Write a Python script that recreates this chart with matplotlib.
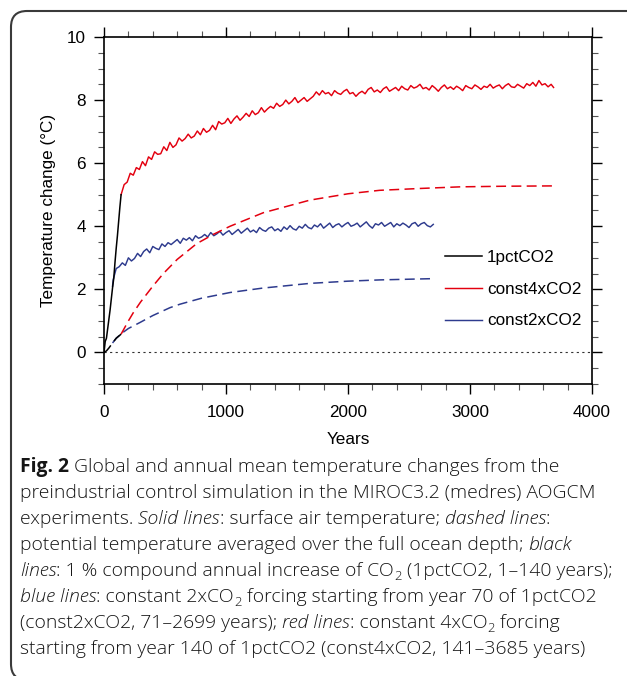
import numpy as np
import matplotlib
matplotlib.use('Agg')
import matplotlib.pyplot as plt
from matplotlib.patches import FancyBboxPatch
from matplotlib.ticker import MultipleLocator, FixedLocator
import matplotlib.transforms as mtransforms

# ---------------- data ----------------
# 1pctCO2 surface air temperature (years 0-140)
yr_1pct = [0, 10, 20, 30, 40, 50, 60, 70, 80, 90, 100, 110, 120, 130, 140]
sat_1pct = [0.0, 0.35, 0.45, 0.75, 1.05, 1.35, 1.7, 2.05, 2.35, 2.85, 3.3, 3.7, 4.15, 4.6, 5.0]
# 1pctCO2 full-depth ocean potential temperature
yr_1pct_oc = [0, 20, 40, 70, 100, 140]
oce_1pct = [0.0, 0.05, 0.14, 0.3, 0.45, 0.58]

# const4xCO2 surface air temperature (years 140-3685, 25-yr samples)
yr_4x = list(range(140, 3666, 25)) + [3685]
sat_4x = [
    5.00, 5.32, 5.40, 5.68, 5.62, 5.86, 5.80, 6.05, 5.92, 6.20,
    6.12, 6.36, 6.28, 6.30, 6.52, 6.40, 6.66, 6.50, 6.58, 6.80,
    6.70, 6.78, 6.92, 6.80, 6.86, 7.02, 6.90, 7.10, 6.98, 7.04,
    7.20, 7.06, 7.32, 7.24, 7.28, 7.42, 7.26, 7.40, 7.50, 7.36,
    7.46, 7.58, 7.48, 7.66, 7.54, 7.60, 7.76, 7.62, 7.72, 7.80,
    7.74, 7.90, 7.80, 7.86, 8.00, 7.88, 7.96, 8.08, 7.92, 8.00,
    8.08, 7.96, 8.04, 8.12, 8.26, 8.16, 8.30, 8.20, 8.24, 8.14,
    8.30, 8.22, 8.18, 8.28, 8.34, 8.20, 8.24, 8.12, 8.22, 8.28,
    8.20, 8.34, 8.40, 8.26, 8.32, 8.24, 8.36, 8.42, 8.28, 8.34,
    8.40, 8.30, 8.44, 8.36, 8.32, 8.46, 8.38, 8.42, 8.50, 8.36,
    8.40, 8.32, 8.46, 8.38, 8.28, 8.40, 8.48, 8.36, 8.42, 8.34,
    8.44, 8.38, 8.30, 8.46, 8.40, 8.36, 8.48, 8.42, 8.34, 8.44,
    8.40, 8.50, 8.38, 8.44, 8.48, 8.36, 8.46, 8.52, 8.42, 8.40,
    8.50, 8.44, 8.38, 8.52, 8.46, 8.56, 8.44, 8.62, 8.48, 8.52,
    8.42, 8.50, 8.40,
]
# const4xCO2 ocean potential temperature
yr_4x_oc = [140, 200, 240, 300, 400, 486, 600, 760, 900, 1033, 1306, 1689,
            2000, 2260, 2600, 2920, 3300, 3685]
oce_4x = [0.58, 1.0, 1.26, 1.6, 2.1, 2.5, 2.95, 3.45, 3.75, 4.0, 4.43, 4.83,
          5.03, 5.14, 5.2, 5.25, 5.27, 5.28]

# const2xCO2 surface air temperature (years 70-2699)
yr_2x = [70] + list(range(75, 2676, 25)) + [2699]
sat_2x = [
    2.10,
    2.30, 2.66, 2.72, 2.84, 2.76, 3.00, 2.90, 2.98, 3.14, 3.04,
    3.20, 3.28, 3.16, 3.36, 3.30, 3.26, 3.44, 3.36, 3.48, 3.42,
    3.50, 3.58, 3.46, 3.62, 3.56, 3.64, 3.54, 3.70, 3.62, 3.66,
    3.74, 3.66, 3.80, 3.70, 3.76, 3.84, 3.72, 3.80, 3.86, 3.74,
    3.82, 3.90, 3.78, 3.86, 3.94, 3.82, 3.88, 3.80, 3.96, 3.88,
    3.84, 3.94, 3.98, 3.86, 3.92, 3.84, 3.98, 3.90, 4.02, 3.92,
    3.88, 4.00, 3.94, 4.06, 3.96, 3.92, 4.04, 3.98, 4.08, 3.94,
    4.02, 4.10, 3.96, 4.04, 4.08, 3.98, 4.06, 4.12, 4.00, 4.04,
    4.10, 3.98, 4.06, 4.14, 4.02, 3.94, 4.08, 4.04, 4.12, 4.00,
    4.06, 4.12, 3.98, 4.08, 4.02, 4.10, 4.04, 3.96, 4.08, 4.12,
    4.00, 4.08, 4.12, 4.02, 3.98,
    4.06,
]
# const2xCO2 ocean potential temperature
yr_2x_oc = [70, 100, 150, 200, 295, 400, 541, 623, 800, 1033, 1300, 1689,
            2000, 2262, 2699]
oce_2x = [0.3, 0.45, 0.62, 0.76, 0.95, 1.17, 1.42, 1.53, 1.72, 1.9, 2.04, 2.19,
          2.26, 2.3, 2.34]

labels = ['1pctCO2', 'const4xCO2', 'const2xCO2']
x_ticks = [0, 1000, 2000, 3000, 4000]
y_ticks = [0, 2, 4, 6, 8, 10]

# ---------------- figure ----------------
W, H, DPI = 627, 676, 100
fig = plt.figure(figsize=(W / DPI, H / DPI), dpi=DPI)


def fx(px):
    return px / W


def fy(py):
    return 1 - py / H


RED = '#e3000f'
BLUE = '#2e3b8e'
AXFONT = 'Liberation Sans'
AXFS = 12.3

ax = fig.add_axes([fx(104), fy(384), fx(592) - fx(104), fy(37) - fy(384)])

dash = (0, (6.5, 3.5))
ax.axhline(0, color='#333333', lw=0.8, ls=(0, (2, 3)), zorder=1)
l2, = ax.plot(yr_2x, sat_2x, color=BLUE, lw=1.05, zorder=2)
ax.plot(yr_2x_oc, oce_2x, color=BLUE, lw=1.1, ls=dash, zorder=2)
l4, = ax.plot(yr_4x, sat_4x, color=RED, lw=1.05, zorder=3)
ax.plot(yr_4x_oc, oce_4x, color=RED, lw=1.1, ls=dash, zorder=3)
l1, = ax.plot(yr_1pct, sat_1pct, color='black', lw=1.1, zorder=4)
ax.plot(yr_1pct_oc, oce_1pct, color='black', lw=1.1, ls=dash, zorder=4)

ax.set_xlim(0, 4000)
ax.set_ylim(-1, 10)
ax.xaxis.set_major_locator(FixedLocator(x_ticks))
ax.xaxis.set_minor_locator(MultipleLocator(200))
ax.yaxis.set_major_locator(FixedLocator(y_ticks))
ax.yaxis.set_minor_locator(MultipleLocator(0.5))
ax.tick_params(which='both', direction='out', top=True, right=True,
               labeltop=False, labelright=False)
ax.tick_params(which='major', length=7.5, width=1.0, labelsize=AXFS)
ax.tick_params(axis='y', which='major', pad=5.5)
ax.tick_params(axis='x', which='major', pad=7.5)
ax.tick_params(which='minor', length=4, width=0.8, color='#555555')
for lab in ax.get_xticklabels() + ax.get_yticklabels():
    lab.set_family(AXFONT)
for sp in ax.spines.values():
    sp.set_linewidth(1.2)

ax.set_xlabel('Years', family=AXFONT, fontsize=AXFS, labelpad=9)
ax.set_ylabel('Temperature change (°C)', family=AXFONT, fontsize=AXFS, labelpad=8)

leg = ax.legend([l1, l4, l2], labels, loc='upper left',
                bbox_to_anchor=(fx(445), fy(250)), bbox_transform=fig.transFigure,
                frameon=False, borderpad=0, borderaxespad=0, handlelength=2.15,
                handletextpad=0.3, labelspacing=0.98,
                prop={'family': AXFONT, 'size': AXFS})

# rounded frame around the whole figure
frame = FancyBboxPatch((11, -4), 720, 669, boxstyle='round,pad=0,rounding_size=16',
                       transform=mtransforms.IdentityTransform(), fill=False,
                       edgecolor='#3a3a3a', lw=1.5, zorder=0)
fig.patches.append(frame)

# ---------------- caption ----------------
CAPFONT = 'Open Sans'
caption = [
    [('Fig. 2', 'b'), (' Global and annual mean temperature changes from the', 'r')],
    [('preindustrial control simulation in the MIROC3.2 (medres) AOGCM', 'r')],
    [('experiments. ', 'r'), ('Solid lines', 'i'), (': surface air temperature; ', 'r'),
     ('dashed lines', 'i'), (':', 'r')],
    [('potential temperature averaged over the full ocean depth; ', 'r'), ('black', 'i')],
    [('lines', 'i'), (': 1 % compound annual increase of CO', 'r'), ('2', 's'),
     (' (1pctCO2, 1–140 years);', 'r')],
    [('blue lines', 'i'), (': constant 2xCO', 'r'), ('2', 's'),
     (' forcing starting from year 70 of 1pctCO2', 'r')],
    [('(const2xCO2, 71–2699 years); ', 'r'), ('red lines', 'i'), (': constant 4xCO', 'r'),
     ('2', 's'), (' forcing', 'r')],
    [('starting from year 140 of 1pctCO2 (const4xCO2, 141–3685 years)', 'r')],
]

renderer = fig.canvas.get_renderer()


def style_kw(st, fs):
    kw = dict(family=CAPFONT, fontsize=fs, color='#151515', weight='light')
    if st == 'b':
        kw['weight'] = 'bold'
    elif st == 'i':
        kw['style'] = 'italic'
    elif st == 's':
        kw['fontsize'] = fs * 0.68
    return kw


def seg_width(s, kw):
    t1 = fig.text(0, 0, 'x' + s + 'x', **kw)
    t2 = fig.text(0, 0, 'xx', **kw)
    w = t1.get_window_extent(renderer).width - t2.get_window_extent(renderer).width
    t1.remove()
    t2.remove()
    return w


def line_width(segs, fs):
    return sum(seg_width(s, style_kw(st, fs)) for s, st in segs)


base = 12.0
target = 611 - 20
fs = base * target / line_width(caption[4], base)

y0 = 472
for i, segs in enumerate(caption):
    x = 20.0
    yb = y0 + 26 * i
    for s, st in segs:
        kw = style_kw(st, fs)
        yy = yb + (3.5 if st == 's' else 0)
        fig.text(fx(x), fy(yy), s, ha='left', va='baseline', **kw)
        x += seg_width(s, kw)

fig.savefig('out.png', dpi=DPI)
